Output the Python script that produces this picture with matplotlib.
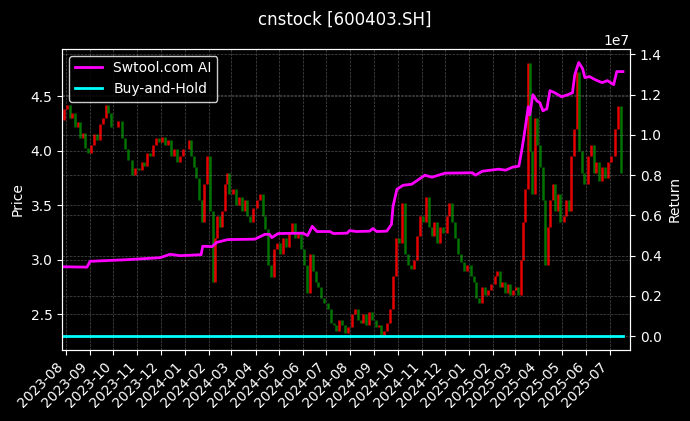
import numpy as np
import pandas as pd
import matplotlib.pyplot as plt
import matplotlib.dates as mdates

plt.style.use('dark_background')

# 價格資料（每月數個收盤點，依圖讀取）
data_start = pd.Timestamp('2023-07-27')
data_end = pd.Timestamp('2025-07-18')

months = ['2023-07', '2023-08', '2023-09', '2023-10', '2023-11', '2023-12',
          '2024-01', '2024-02', '2024-03', '2024-04', '2024-05', '2024-06',
          '2024-07', '2024-08', '2024-09', '2024-10', '2024-11', '2024-12',
          '2025-01', '2025-02', '2025-03', '2025-04', '2025-05', '2025-06',
          '2025-07']

closes_by_month = [
    [4.28, 4.38],
    [4.42, 4.30, 4.35, 4.22, 4.26, 4.12, 4.16, 4.03, 3.98],
    [4.05, 4.15, 4.10, 4.25, 4.30, 4.42, 4.35, 4.22],
    [4.22, 4.27, 4.12, 4.02, 3.92, 3.78, 3.84],
    [3.82, 3.90, 3.86, 3.98, 3.95, 4.05, 4.12, 4.08],
    [4.13, 4.05, 4.10, 3.95, 4.02, 3.90, 3.95, 4.02],
    [4.02, 4.10, 3.95, 3.85, 3.75, 3.55, 3.35, 3.70, 3.95],
    [3.45, 2.80, 3.20, 3.40, 3.30, 3.45, 3.70, 3.80, 3.60],
    [3.65, 3.50, 3.58, 3.45, 3.55, 3.40, 3.35, 3.48],
    [3.55, 3.60, 3.40, 3.28, 2.95, 2.84, 3.10, 3.15],
    [3.05, 3.20, 3.12, 3.25, 3.34, 3.20, 3.25, 3.10],
    [2.95, 2.70, 3.05, 2.90, 2.80, 2.75, 2.65, 2.60],
    [2.55, 2.42, 2.40, 2.35, 2.45, 2.40, 2.33, 2.38],
    [2.50, 2.55, 2.45, 2.42, 2.50, 2.40, 2.52, 2.45],
    [2.38, 2.40, 2.30, 2.35, 2.42, 2.55, 2.85, 3.20],
    [3.15, 3.52, 3.05, 2.95, 2.92, 3.00, 3.22, 3.40],
    [3.35, 3.58, 3.30, 3.22, 3.35, 3.15, 3.30, 3.25],
    [3.40, 3.52, 3.35, 3.20, 3.05, 2.98, 2.90, 2.95],
    [2.85, 2.80, 2.65, 2.60, 2.75, 2.68, 2.72, 2.78],
    [2.85, 2.90, 2.75, 2.80, 2.70, 2.78, 2.68, 2.72],
    [2.75, 2.68, 3.00, 3.35, 3.65, 4.81, 4.00, 3.60, 4.30, 4.05],
    [3.85, 3.55, 2.95, 3.30, 3.55, 3.70, 3.45, 3.60, 3.35],
    [3.40, 3.55, 3.45, 3.95, 4.20, 4.72, 4.00, 3.80, 3.70],
    [3.95, 4.05, 3.80, 3.90, 3.72, 3.85, 3.75, 3.90],
    [3.95, 4.20, 4.41, 3.80],
]

# 策略報酬（單位 1e7）
ret_dates = ['2023-07-27', '2023-08-28', '2023-09-01', '2023-10-18', '2023-11-30',
             '2023-12-13', '2023-12-26', '2024-01-22', '2024-01-24', '2024-02-05',
             '2024-02-11', '2024-02-25', '2024-03-31', '2024-04-13', '2024-04-19',
             '2024-04-22', '2024-04-30', '2024-06-01', '2024-06-07', '2024-06-13',
             '2024-06-19', '2024-07-06', '2024-07-10', '2024-07-28', '2024-07-31',
             '2024-08-09', '2024-08-26', '2024-08-30', '2024-09-04', '2024-09-17',
             '2024-09-23', '2024-09-25', '2024-09-30', '2024-10-08', '2024-10-19',
             '2024-11-05', '2024-11-14', '2024-12-01', '2025-01-05', '2025-01-09',
             '2025-01-18', '2025-02-08', '2025-02-17', '2025-02-26', '2025-03-06',
             '2025-03-10', '2025-03-14', '2025-03-18', '2025-03-20', '2025-03-24',
             '2025-03-29', '2025-04-02', '2025-04-06', '2025-04-11', '2025-04-15',
             '2025-04-21', '2025-04-30', '2025-05-08', '2025-05-14', '2025-05-17',
             '2025-05-22', '2025-05-27', '2025-05-30', '2025-06-05', '2025-06-12',
             '2025-06-21', '2025-06-28', '2025-07-06', '2025-07-10', '2025-07-18']
ret_values = [0.345, 0.343, 0.372, 0.380, 0.390,
              0.407, 0.400, 0.405, 0.447, 0.445,
              0.466, 0.480, 0.482, 0.506, 0.506,
              0.490, 0.510, 0.512, 0.500, 0.546,
              0.520, 0.520, 0.510, 0.512, 0.525,
              0.520, 0.522, 0.535, 0.520, 0.522,
              0.556, 0.645, 0.730, 0.750, 0.755,
              0.800, 0.790, 0.810, 0.812, 0.800,
              0.820, 0.830, 0.825, 0.840, 0.845,
              0.930, 1.030, 1.140, 1.100, 1.200,
              1.170, 1.160, 1.120, 1.130, 1.220,
              1.210, 1.190, 1.200, 1.210, 1.300,
              1.360, 1.330, 1.285, 1.290, 1.275,
              1.260, 1.270, 1.250, 1.315, 1.315]

bh_dates = ['2023-07-27', '2025-07-18']
bh_values = [0.0, 0.0]

# 每月的點平均分布在該月內
dates = []
closes = []
for m, vals in zip(months, closes_by_month):
    m_start = max(pd.Timestamp(m + '-01'), data_start)
    m_end = min(pd.Timestamp(m + '-01') + pd.offsets.MonthEnd(0), data_end)
    span = (m_end - m_start) / len(vals)
    for i, v in enumerate(vals):
        dates.append(m_start + span * (i + 0.5))
        closes.append(v)

closes = np.array(closes)
opens = np.concatenate([[closes[0]], closes[:-1]])
colors = np.where(closes >= opens, 'red', 'green')

fig, ax = plt.subplots(figsize=(6.9, 4.21), dpi=100)
fig.subplots_adjust(left=0.09, right=0.913, bottom=0.169, top=0.884)

ax.vlines(dates, opens, closes, colors=colors, linewidth=1.8, alpha=0.9)
ax.set_ylabel('Price')
ax.grid(True, linestyle='--', linewidth=0.5, color='gray', alpha=0.6)

ax2 = ax.twinx()
ax2.plot(pd.to_datetime(ret_dates), np.array(ret_values) * 1e7,
         color='magenta', linewidth=2, label='Swtool.com AI')
ax2.plot(pd.to_datetime(bh_dates), np.array(bh_values) * 1e7,
         color='cyan', linewidth=2, label='Buy-and-Hold')
ax2.set_ylabel('Return')
ax2.grid(True, linestyle='--', linewidth=0.5, color='gray', alpha=0.6)

ax.set_xlim(pd.Timestamp('2023-07-27'), pd.Timestamp('2025-07-27'))
ax.xaxis.set_major_locator(mdates.MonthLocator())
ax.xaxis.set_major_formatter(mdates.DateFormatter('%Y-%m'))
plt.setp(ax.get_xticklabels(), rotation=45, ha='right')

leg = ax2.legend(loc='upper left', facecolor='black', edgecolor='white')

fig.suptitle('cnstock [600403.SH]', fontsize=12, y=0.975)

plt.savefig('out.png', dpi=100)
